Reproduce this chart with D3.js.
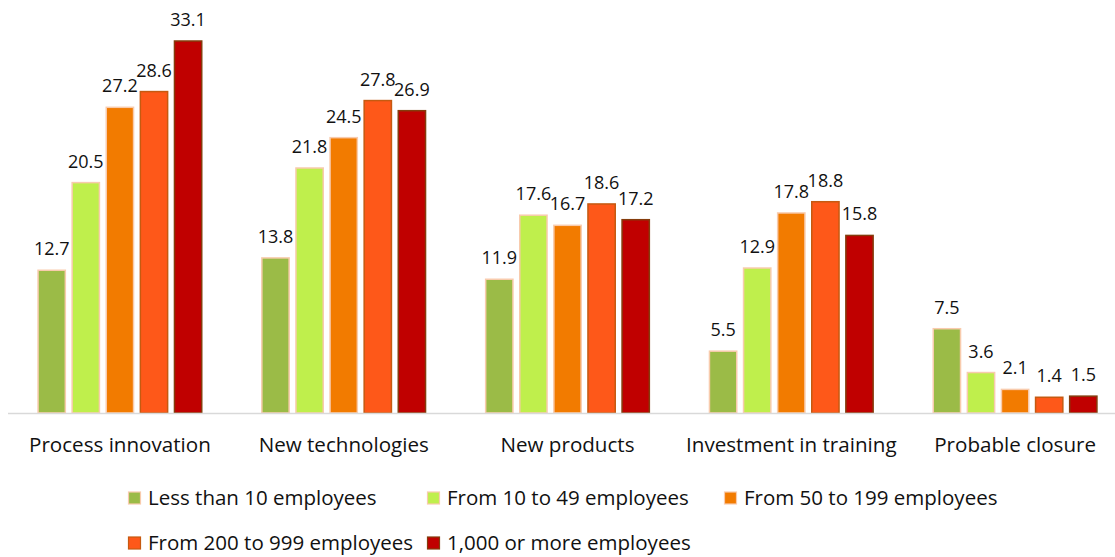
<!DOCTYPE html>
<html>
<head>
<meta charset="utf-8">
<script src="https://cdn.jsdelivr.net/npm/d3@7"></script>
<style>
  html, body { margin: 0; padding: 0; background: #fff; }
  svg { display: block; }
  text { font-family: "Open Sans", "Noto Sans", sans-serif; fill: #111; }
</style>
</head>
<body>
<svg id="chart" width="1115" height="557"></svg>
<script>
// Categories and employee-size series (values in %)
const categories = ["Process innovation", "New technologies", "New products", "Investment in training", "Probable closure"];
const seriesNames = ["Less than 10 employees", "From 10 to 49 employees", "From 50 to 199 employees", "From 200 to 999 employees", "1,000 or more employees"];
const lessThan10 = [12.7, 13.8, 11.9, 5.5, 7.5];
const from10to49 = [20.5, 21.8, 17.6, 12.9, 3.6];
const from50to199 = [27.2, 24.5, 16.7, 17.8, 2.1];
const from200to999 = [28.6, 27.8, 18.6, 18.8, 1.4];
const over1000 = [33.1, 26.9, 17.2, 15.8, 1.5];
const seriesValues = [lessThan10, from10to49, from50to199, from200to999, over1000];

const fills = ["#9bbb47", "#bfef4c", "#f27b00", "#fe5819", "#c00000"];
const strokes = ["#f8cbad", "#f8cbad", "#f8cbad", "#c55a11", "#843c0c"];

const svg = d3.select("#chart");
const baseY = 413;

const x0 = d3.scaleBand().domain(categories).range([8, 1127]).paddingInner(0).paddingOuter(0);
const groupW = 170.5;
const x1 = d3.scaleBand().domain(seriesNames)
  .range([(x0.bandwidth() - groupW) / 2, (x0.bandwidth() + groupW) / 2])
  .paddingInner(0.2).paddingOuter(0.1);
const y = d3.scaleLinear().domain([0, 33.1]).range([baseY, 41]);

const groups = svg.append("g").selectAll("g")
  .data(categories)
  .join("g")
  .attr("transform", d => `translate(${x0(d)},0)`);

groups.selectAll("rect")
  .data((c, ci) => seriesNames.map((s, si) => ({ s, si, v: seriesValues[si][ci] })))
  .join("rect")
  .attr("x", d => x1(d.s))
  .attr("width", x1.bandwidth())
  .attr("y", d => y(d.v))
  .attr("height", d => baseY - y(d.v))
  .attr("fill", d => fills[d.si])
  .attr("stroke", d => strokes[d.si])
  .attr("stroke-width", 1.5);

groups.selectAll("text.val")
  .data((c, ci) => seriesNames.map((s, si) => ({ s, si, v: seriesValues[si][ci] })))
  .join("text")
  .attr("class", "val")
  .attr("x", d => x1(d.s) + x1.bandwidth() / 2)
  .attr("y", d => y(d.v) - 15)
  .attr("text-anchor", "middle")
  .style("font-size", "18px")
  .text(d => d.v.toFixed(1));

// Baseline axis
svg.append("line")
  .attr("x1", 8).attr("x2", 1115)
  .attr("y1", baseY + 0.5).attr("y2", baseY + 0.5)
  .attr("stroke", "#d9d9d9").attr("stroke-width", 1.5);

// Category labels
const xAxis = d3.axisBottom(x0).tickSize(0).tickPadding(0);
const ax = svg.append("g").attr("transform", `translate(0,${baseY})`).call(xAxis);
ax.select(".domain").remove();
ax.selectAll("text")
  .attr("dy", null)
  .attr("y", 39)
  .style("font-size", "20.6px")
  .style("font-family", "'Open Sans', 'Noto Sans', sans-serif")
  .attr("fill", "#111");

// Legend
const legendPos = [
  [128, 498], [427, 498], [724, 498],
  [128, 543], [427, 543]
];
const legend = svg.append("g").selectAll("g")
  .data(seriesNames)
  .join("g")
  .attr("transform", (d, i) => `translate(${legendPos[i][0]},${legendPos[i][1]})`);
legend.append("rect")
  .attr("x", 0.5).attr("y", -6).attr("width", 12).attr("height", 12)
  .attr("fill", (d, i) => fills[i])
  .attr("stroke", (d, i) => strokes[i])
  .attr("stroke-width", 1.2);
legend.append("text")
  .attr("x", 20).attr("y", 7)
  .style("font-size", "20.5px")
  .text(d => d);
</script>
</body>
</html>
